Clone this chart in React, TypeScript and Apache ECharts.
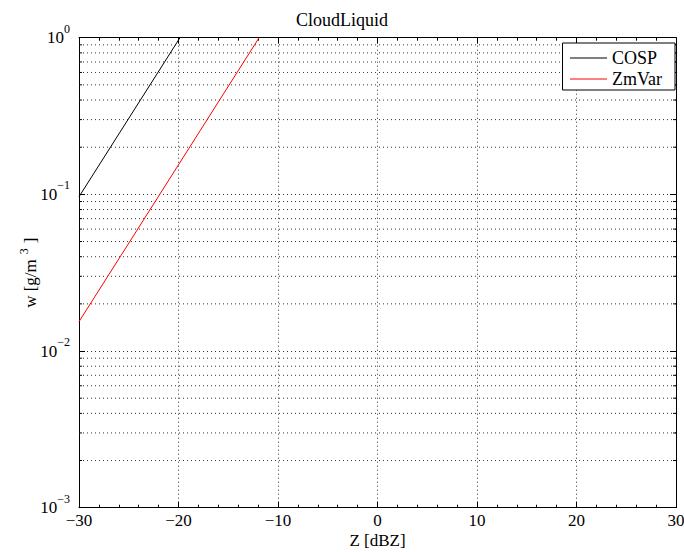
import React, { useEffect, useRef } from "react";
import * as echarts from "echarts";

const TITLE = "CloudLiquid";
const X_NAME = "Z [dBZ]";
const SERIES_NAMES = ["COSP", "ZmVar"];
const COSP_Z = [-30, -19.85];
const COSP_W = [0.0966, 1];
const ZMVAR_Z = [-30, -11.9];
const ZMVAR_W = [0.0154, 1];
const X_MIN = -30;
const X_MAX = 30;
const X_STEP = 10;
const Y_MIN = 0.001;
const Y_MAX = 1;
const DECADES = [0.001, 0.01, 0.1];
const MINOR_MULT = [2, 3, 4, 5, 6, 7, 8, 9];

const FONT = "Liberation Serif";

export default function App() {
  const ref = useRef<HTMLDivElement>(null);
  useEffect(() => {
    if (!ref.current) return;
    const chart = echarts.init(ref.current, undefined, { renderer: "svg" });
    const minorVals: number[] = [];
    DECADES.forEach((d) => MINOR_MULT.forEach((m) => minorVals.push(+(d * m).toPrecision(3))));

    const gridData: any[] = [];
    const tickData: any[] = [];
    const tickLen = 0.3;
    minorVals.forEach((v) => {
      gridData.push([X_MIN, v], [X_MAX, v], [X_MAX, null]);
      tickData.push([X_MIN, v], [X_MIN + tickLen, v], [X_MIN + tickLen, null]);
      tickData.push([X_MAX - tickLen, v], [X_MAX, v], [X_MAX, null]);
    });

    const labelRich = {
      b: { fontSize: 17, fontFamily: FONT, color: "#000", lineHeight: 30, verticalAlign: "middle" },
      e: { fontSize: 12, fontFamily: FONT, color: "#000", lineHeight: 12, verticalAlign: "top" },
    };

    const tickCommon = {
      axisLine: { show: true, onZero: false, lineStyle: { color: "#000", width: 1 } },
      axisTick: { show: true, inside: true, length: 6, lineStyle: { color: "#000" } },
    };
    const dotted = { color: "#333", type: [1, 3], width: 1 };

    chart.setOption({
      animation: false,
      backgroundColor: "#fff",
      title: {
        text: TITLE,
        left: "center",
        top: 6,
        textStyle: { fontFamily: FONT, fontSize: 18, fontWeight: "normal", color: "#000" },
      },
      legend: {
        orient: "vertical",
        right: 9,
        top: 43,
        padding: [6, 13, 2, 7],
        borderColor: "#000",
        borderWidth: 1,
        borderRadius: 0,
        backgroundColor: "#fff",
        itemWidth: 37,
        itemHeight: 14,
        itemGap: 3,
        itemStyle: { opacity: 0 },
        lineStyle: { width: 1 },
        textStyle: { fontFamily: FONT, fontSize: 18, color: "#000" },
        data: SERIES_NAMES,
      },
      grid: {
        left: 79,
        right: 8,
        top: 37.7,
        bottom: 44.3,
        containLabel: false,
        outerBoundsMode: "none",
      },
      xAxis: [
        {
          type: "value",
          min: X_MIN,
          max: X_MAX,
          interval: X_STEP,
          position: "bottom",
          ...tickCommon,
          minorTick: { show: true, splitNumber: 5, length: 3, lineStyle: { color: "#000" } },
          splitLine: { show: true, lineStyle: dotted },
          axisLabel: {
            fontFamily: FONT,
            fontSize: 17,
            lineHeight: 15,
            color: "#000",
            margin: 5,
            formatter: (v: number) => (v < 0 ? "\u2212" + Math.abs(v) : String(v)),
          },
          name: X_NAME,
          nameLocation: "middle",
          nameGap: 25,
          nameMoveOverlap: false,
          nameTextStyle: { fontFamily: FONT, fontSize: 17, lineHeight: 15, color: "#000" },
        },
        {
          type: "value",
          min: X_MIN,
          max: X_MAX,
          interval: X_STEP,
          position: "top",
          ...tickCommon,
          minorTick: { show: true, splitNumber: 5, length: 3, lineStyle: { color: "#000" } },
          splitLine: { show: false },
          axisLabel: { show: false },
        },
      ],
      yAxis: [
        {
          type: "log",
          logBase: 10,
          min: Y_MIN,
          max: Y_MAX,
          position: "left",
          ...tickCommon,
          splitLine: { show: true, lineStyle: dotted },
          axisLabel: {
            margin: 9,
            formatter: (v: number) => {
              const ex = Math.round(Math.log10(v));
              const s = ex < 0 ? "\u2212" + Math.abs(ex) : String(ex);
              return "{b|10}{e|" + s + "}";
            },
            rich: labelRich,
          },
          name: "{a|w [g/m}{s|3}{a|]}",
          nameLocation: "middle",
          nameGap: 37,
          nameRotate: 90,
          nameMoveOverlap: false,
          nameTextStyle: {
            fontFamily: FONT,
            fontSize: 17,
            color: "#000",
            rich: {
              a: { fontFamily: FONT, fontSize: 17, color: "#000", lineHeight: 24, verticalAlign: "middle" },
              s: {
                fontFamily: FONT,
                fontSize: 12,
                color: "#000",
                lineHeight: 12,
                verticalAlign: "top",
                padding: [0, 5, 0, 5],
              },
            },
          },
        },
        {
          type: "log",
          logBase: 10,
          min: Y_MIN,
          max: Y_MAX,
          position: "right",
          ...tickCommon,
          splitLine: { show: false },
          axisLabel: { show: false },
        },
      ],
      series: [
        {
          name: "minorGrid",
          type: "line",
          symbol: "none",
          silent: true,
          z: 1,
          connectNulls: false,
          lineStyle: dotted,
          data: gridData,
        },
        {
          name: "minorTicks",
          type: "line",
          symbol: "none",
          silent: true,
          z: 1,
          connectNulls: false,
          lineStyle: { color: "#000", width: 1 },
          data: tickData,
        },
        {
          name: SERIES_NAMES[0],
          type: "line",
          symbol: "none",
          color: "#000",
          z: 3,
          lineStyle: { color: "#000", width: 1 },
          data: COSP_Z.map((z, i) => [z, COSP_W[i]]),
        },
        {
          name: SERIES_NAMES[1],
          type: "line",
          symbol: "none",
          color: "#ff0000",
          z: 3,
          lineStyle: { color: "#ff0000", width: 1 },
          data: ZMVAR_Z.map((z, i) => [z, ZMVAR_W[i]]),
        },
      ],
    });
    return () => chart.dispose();
  }, []);
  return <div ref={ref} style={{ width: 684, height: 552, position: "absolute", left: 0, top: 0 }} />;
}
